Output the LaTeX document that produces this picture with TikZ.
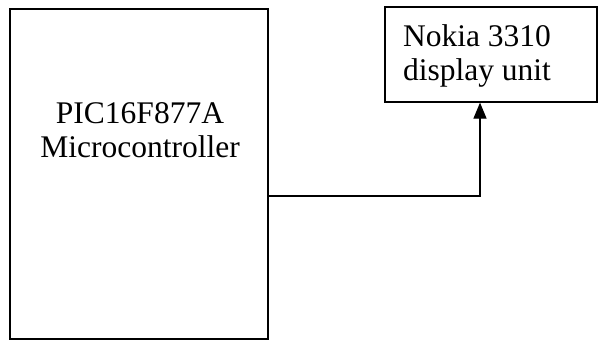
\documentclass[tikz,border=0pt]{standalone}
\usepackage{fontspec}
\setmainfont{Liberation Serif}
\usepackage{tikz}
\usetikzlibrary{arrows.meta, positioning, calc}

\tikzset{
    blockbox/.style={draw=black, line width=1.2pt, fill=white, inner sep=0pt},
    blocktext/.style={font=\fontsize{31.5}{34}\selectfont, inner sep=0pt},
    link/.style={draw=black, line width=1.2pt, -{Triangle[length=16pt, width=13pt]}}
}

\begin{document}
\begin{tikzpicture}[x=1pt, y=1pt]
    \useasboundingbox (0,0) rectangle (601,341);

    % microcontroller block
    \node[blockbox, minimum width=258pt, minimum height=330pt] (mcu) at (139,167) {};
    \node[blocktext, align=center] (mcutext) at (140,211) {PIC16F877A\\Microcontroller};

    % display block
    \node[blockbox, minimum width=212pt, minimum height=95pt] (lcd) at (491,286.5) {};
    \node[blocktext, align=left] (lcdtext) at (477,285) {Nokia 3310\\display unit};

    % connection
    \coordinate (tap) at ($(mcu.east)+(0,-22)$);
    \draw[link] (tap) -| ($(lcd.south)+(-11,0)$);
\end{tikzpicture}
\end{document}
